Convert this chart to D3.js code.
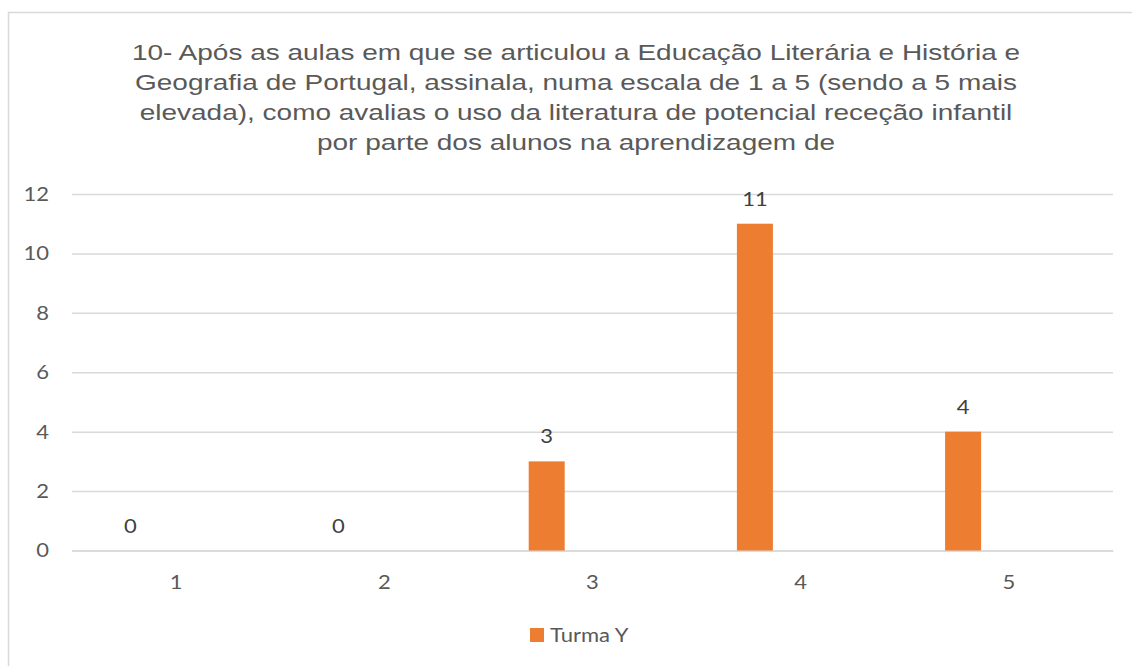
<!DOCTYPE html>
<html>
<head>
<meta charset="utf-8">
<script src="https://cdn.jsdelivr.net/npm/d3@7"></script>
<style>
  html, body { margin: 0; padding: 0; background: #fff; }
  svg { display: block; }
</style>
</head>
<body>
<svg id="chart" width="1132" height="666"></svg>
<script>
// Chart data
const categories = ["1", "2", "3", "4", "5"];
const seriesName = "Turma Y";
const values = [0, 0, 3, 11, 4];
const yTicks = [0, 2, 4, 6, 8, 10, 12];
const titleLines = [
  "10- Após as aulas em que se articulou a Educação Literária e História e",
  "Geografia de Portugal, assinala, numa escala de 1 a 5 (sendo a 5 mais",
  "elevada), como avalias o uso da literatura de potencial receção infantil",
  "por parte dos alunos na aprendizagem de"
];

const svg = d3.select("#chart");
const plot = { left: 72, right: 1113, top: 194, bottom: 550.5 };
const barColor = "#ED7D31";
const gridColor = "#D9D9D9";
const labelFont = "Lato, 'Open Sans', sans-serif";
const labelSize = 20;
const stretch = 1.1;       // horizontal widening of label glyphs
const titleStretch = 1.217;

// Chart frame
svg.append("rect")
  .attr("x", 8.5).attr("y", 12.5)
  .attr("width", 1150).attr("height", 680)
  .attr("fill", "#fff")
  .attr("stroke", gridColor).attr("stroke-width", 1.5);

// Title
const title = svg.append("text")
  .attr("transform", `translate(576,0) scale(${titleStretch},1)`)
  .attr("text-anchor", "middle")
  .attr("font-family", "'Liberation Sans', Arial, sans-serif")
  .attr("font-size", 23)
  .attr("fill", "#595959");
titleLines.forEach((line, i) => {
  title.append("tspan").attr("x", 0).attr("y", 60 + i * 30).text(line);
});

// Scales
const x = d3.scaleBand().domain(categories).range([plot.left, plot.right]).padding(0);
// two slots per category; the series occupies the first one
const slot = d3.scaleBand().domain([0, 1]).range([0, x.bandwidth()])
  .paddingInner(0.607).paddingOuter(0.44);
const y = d3.scaleLinear().domain([0, 12]).range([plot.bottom, plot.top]);

// Value axis with gridlines
const yAxis = d3.axisLeft(y).tickValues(yTicks).tickSize(-(plot.right - plot.left)).tickPadding(0);
const gy = svg.append("g").attr("transform", `translate(${plot.left},0)`).call(yAxis);
gy.select(".domain").remove();
gy.selectAll(".tick line").attr("stroke", gridColor).attr("stroke-width", 1.5);
gy.selectAll(".tick text")
  .attr("x", 0)
  .attr("transform", `translate(-23,0) scale(${stretch},1)`)
  .attr("font-family", labelFont).attr("font-size", labelSize)
  .attr("fill", "#595959");

// Category axis
const xAxis = d3.axisBottom(x).tickSize(0).tickPadding(24);
const gx = svg.append("g").attr("transform", `translate(0,${plot.bottom})`).call(xAxis);
gx.select(".domain").attr("stroke", gridColor).attr("stroke-width", 1.5);
gx.selectAll(".tick text")
  .attr("transform", `scale(${stretch},1)`)
  .attr("font-family", labelFont).attr("font-size", labelSize)
  .attr("fill", "#595959");

// Bars
const data = categories.map((c, i) => ({ cat: c, value: values[i] }));
svg.append("g").selectAll("rect")
  .data(data)
  .join("rect")
  .attr("x", d => x(d.cat) + slot(0))
  .attr("y", d => y(d.value))
  .attr("width", slot.bandwidth())
  .attr("height", d => y(0) - y(d.value))
  .attr("fill", barColor);

// Value labels
svg.append("g").selectAll("text")
  .data(data)
  .join("text")
  .attr("transform", d =>
    `translate(${x(d.cat) + slot(0) + slot.bandwidth() / 2},${y(d.value) - 18}) scale(${stretch},1)`)
  .attr("text-anchor", "middle")
  .attr("font-family", labelFont).attr("font-size", labelSize)
  .attr("fill", "#404040")
  .text(d => d.value);

// Legend
const legend = svg.append("g").attr("transform", "translate(530,628)");
legend.append("rect").attr("width", 14).attr("height", 14).attr("fill", barColor);
legend.append("text")
  .attr("transform", `translate(20,7) scale(${stretch},1)`)
  .attr("dy", "0.35em")
  .attr("font-family", labelFont).attr("font-size", labelSize)
  .attr("fill", "#595959")
  .text(seriesName);
</script>
</body>
</html>
